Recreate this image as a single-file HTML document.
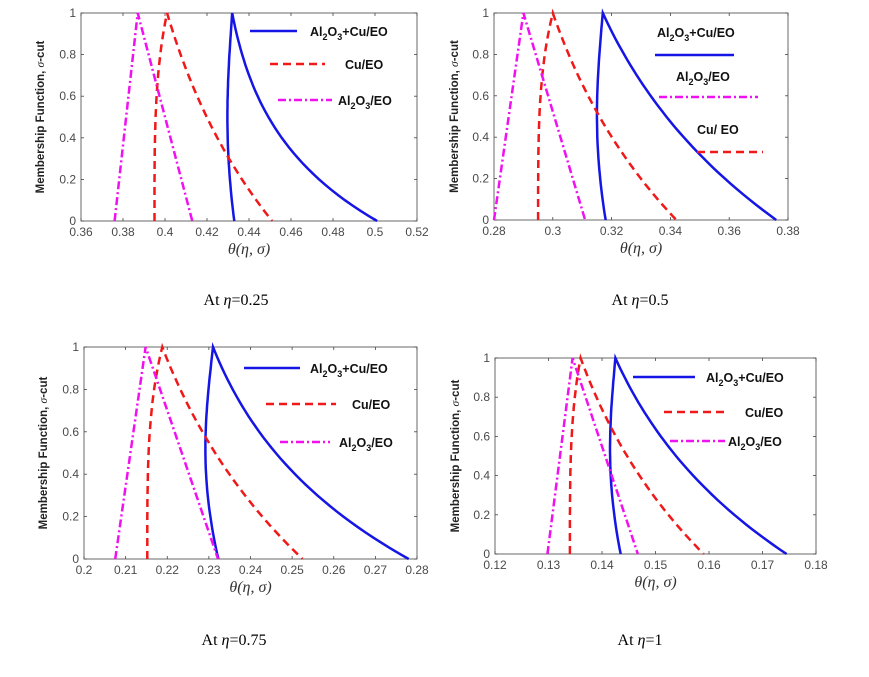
<!DOCTYPE html><html><head><meta charset="utf-8"><style>
body{margin:0;background:#fff;width:869px;height:677px;overflow:hidden}
svg{display:block}
.t{font-family:"Liberation Sans",sans-serif;font-size:12px;fill:#4a4a4a}
.lg{font-family:"Liberation Sans",sans-serif;font-size:12.5px;font-weight:bold;fill:#111}
.yl{font-family:"Liberation Sans",sans-serif;font-size:11.5px;font-weight:bold;fill:#222}
.xl{font-family:"Liberation Serif",serif;font-size:16px;font-style:italic;fill:#333}
.cap{font-family:"Liberation Serif",serif;font-size:16px;fill:#000}
</style></head><body>
<svg id="s" width="869" height="677" xmlns="http://www.w3.org/2000/svg"></svg>
<script>
const S=document.getElementById('s');let h='';
const P=[
{L:81,R:417,T:13,B:221,x0:.36,x1:.52,dt:.02,bl:[.433,.432,.501,.0028,2.2],rd:[.395,.401,.451],mg:[.376,.387,.413],yl:44},
{L:494,R:788,T:13,B:220,x0:.28,x1:.38,dt:.02,bl:[.318,.317,.376,.0025,1.1],rd:[.295,.300,.342],mg:[.280,.290,.311],yl:458},
{L:84,R:417,T:347,B:559,x0:.2,x1:.28,dt:.01,bl:[.2323,.231,.278,.0025,1.5],rd:[.2152,.2188,.2525],mg:[.2075,.2148,.2322],yl:47},
{L:495,R:816,T:358,B:554,x0:.12,x1:.18,dt:.01,bl:[.1435,.1425,.1745,.0015,1.2],rd:[.134,.136,.159],mg:[.1298,.1345,.1467],yl:459}];
function fmt(v){return (+v.toFixed(3)).toString();}
P.forEach(p=>{
 const X=x=>p.L+(x-p.x0)/(p.x1-p.x0)*(p.R-p.L), Y=y=>p.B-y*(p.B-p.T);
 h+=`<rect x="${p.L}" y="${p.T}" width="${p.R-p.L}" height="${p.B-p.T}" fill="none" stroke="#444" stroke-width="0.8"/>`;
 for(let v=p.x0;v<=p.x1+1e-9;v+=p.dt){const x=X(v);
  h+=`<line x1="${x}" y1="${p.B}" x2="${x}" y2="${p.B-3}" stroke="#444" stroke-width=".8"/><line x1="${x}" y1="${p.T}" x2="${x}" y2="${p.T+3}" stroke="#444" stroke-width=".8"/>`;
  h+=`<text class="t" x="${x}" y="${p.B+15}" text-anchor="middle">${fmt(v)}</text>`;}
 for(let i=0;i<=5;i++){const v=i*.2,y=Y(v);
  h+=`<line x1="${p.L}" y1="${y}" x2="${p.L+3}" y2="${y}" stroke="#444" stroke-width=".8"/><line x1="${p.R}" y1="${y}" x2="${p.R-3}" y2="${y}" stroke="#444" stroke-width=".8"/>`;
  h+=`<text class="t" x="${p.L-5}" y="${y+4}" text-anchor="end">${fmt(v)}</text>`;}
 const my=(p.T+p.B)/2;
 h+=`<text class="yl" transform="translate(${p.yl},${my}) rotate(-90)" text-anchor="middle">Membership Function, <tspan font-family="Liberation Serif" font-style="italic" font-weight="normal">σ</tspan>-cut</text>`;
 h+=`<text class="xl" x="${(p.L+p.R)/2}" y="${p.B+33}" text-anchor="middle">θ(η, σ)</text>`;
 let [xl,xp,xr,b,k]=p.bl,pts=[];
 for(let i=0;i<=40;i++){const y=i/40;pts.push([xl+(xp-xl)*y-b*Math.sin(Math.PI*Math.pow(y,0.9)),y]);}
 for(let i=1;i<=40;i++){const t=i/40;pts.push([xp+(xr-xp)*(Math.exp(k*t)-1)/(Math.exp(k)-1),1-t]);}
 h+=`<polyline fill="none" stroke="#1515e6" stroke-width="2.5" points="${pts.map(q=>X(q[0]).toFixed(1)+','+Y(q[1]).toFixed(1)).join(' ')}"/>`;
 let [r0,rp,rr]=p.rd;pts=[];
 for(let i=0;i<=40;i++){const y=i/40;pts.push([r0+(rp-r0)*Math.pow(y,3.5),y]);}
 for(let i=1;i<=40;i++){const t=i/40,kk=1.0;pts.push([rp+(rr-rp)*(Math.exp(kk*t)-1)/(Math.exp(kk)-1),1-t]);}
 h+=`<polyline fill="none" stroke="#f01818" stroke-width="2.5" stroke-dasharray="8,5" points="${pts.map(q=>X(q[0]).toFixed(1)+','+Y(q[1]).toFixed(1)).join(' ')}"/>`;
 let [m0,mp,mr]=p.mg;
 h+=`<polyline fill="none" stroke="#f010f0" stroke-width="2.5" stroke-dasharray="8,3,2,3" points="${X(m0)},${Y(0)} ${X(mp)},${Y(1)} ${X(mr)},${Y(0)}"/>`;
});
const al='Al<tspan font-size="9" dy="4">2</tspan><tspan dy="-4">O</tspan><tspan font-size="9" dy="4">3</tspan><tspan dy="-4">';
function L(x1,x2,y,c,d){h+=`<line x1="${x1}" y1="${y}" x2="${x2}" y2="${y}" stroke="${c}" stroke-width="2.5" ${d?'stroke-dasharray="'+d+'"':''}/>`;}
function T(x,y,s){h+=`<text class="lg" x="${x}" y="${y}">${s}</text>`;}
const B='#1515e6',R='#f01818',M='#f010f0',RD='8,5',MD='8,3,2,3';
L(250,297,31,B);T(310,36,al+'+Cu/EO</tspan>');L(270,325,64,R,RD);T(345,69,'Cu/EO');L(278,332,100,M,MD);T(338,105,al+'/EO</tspan>');
T(657,37,al+'+Cu/EO</tspan>');L(655,734,55,B);T(676,81,al+'/EO</tspan>');L(659,758,97,M,MD);T(697,134,'Cu/ EO');L(697,763,152,R,RD);
L(244,300,368,B);T(310,373,al+'+Cu/EO</tspan>');L(266,336,404,R,RD);T(352,409,'Cu/EO');L(280,330,442,M,MD);T(339,447,al+'/EO</tspan>');
L(633,695,377,B);T(706,382,al+'+Cu/EO</tspan>');L(664,729,412,R,RD);T(745,417,'Cu/EO');L(670,725,441,M,MD);T(728,446,al+'/EO</tspan>');
function C(x,y,e){h+=`<text class="cap" x="${x}" y="${y}" text-anchor="middle">At <tspan font-style="italic">η</tspan>=${e}</text>`;}
C(236,305,'0.25');C(640,305,'0.5');C(234,645,'0.75');C(640,645,'1');
S.innerHTML=h;
</script></body></html>
